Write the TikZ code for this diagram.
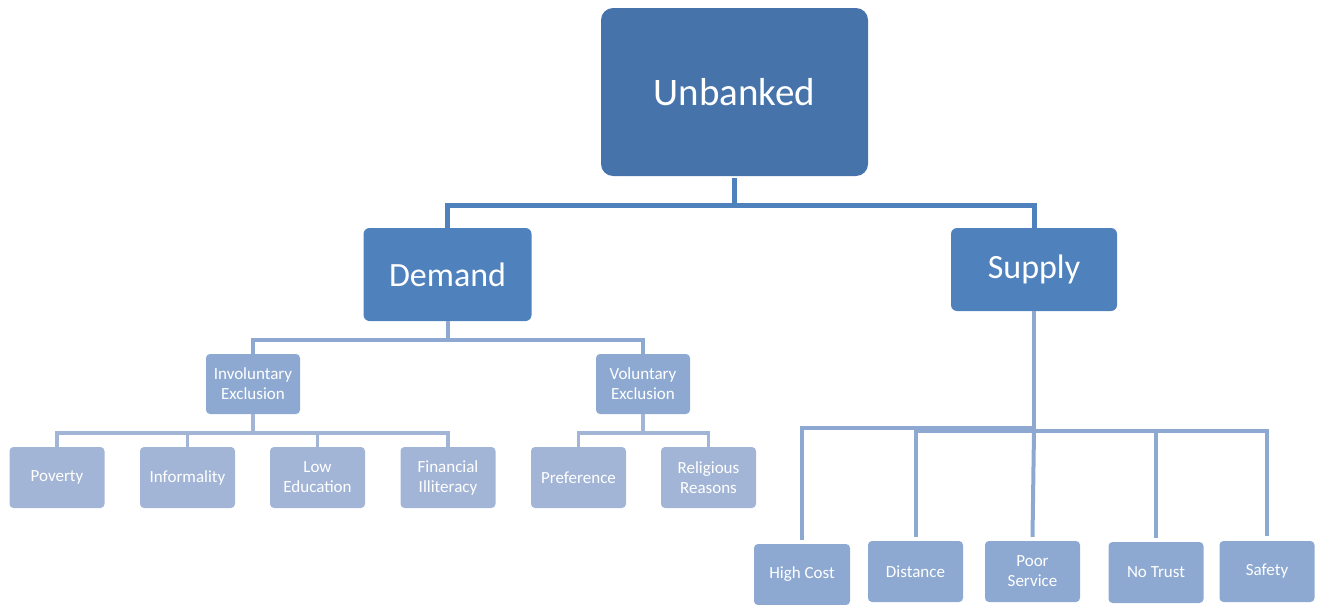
\documentclass[tikz,border=0pt]{standalone}
\usepackage{fontspec}
\setmainfont{Carlito}
\definecolor{cTop}{HTML}{4674AA}
\definecolor{cMid}{HTML}{4F81BD}
\definecolor{cLow}{HTML}{8EA9D1}
\definecolor{cLeaf}{HTML}{A3B5D6}
\begin{document}
\begin{tikzpicture}[x=1pt,y=-1pt,
  box/.style={inner sep=0pt,text=white,align=center,anchor=center},
  topbox/.style={box,fill=cTop,rounded corners=12pt,minimum width=267pt,minimum height=168pt,font=\fontsize{39}{47}\selectfont},
  midbox/.style={box,fill=cMid,rounded corners=6pt,minimum width=168pt,font=\fontsize{34}{40}\selectfont},
  lowbox/.style={box,fill=cLow,rounded corners=4pt,minimum width=94pt,minimum height=60pt,font=\fontsize{17}{20}\selectfont},
  leafbox/.style={box,fill=cLeaf,rounded corners=4pt,minimum width=95pt,minimum height=61pt,font=\fontsize{17}{20}\selectfont},
  supbox/.style={box,fill=cLow,rounded corners=4pt,minimum width=95pt,minimum height=61pt,font=\fontsize{17}{20}\selectfont},
  linkA/.style={draw=cMid,line width=5pt},
  linkB/.style={draw=cLow,line width=4pt},
  linkC/.style={draw=cLeaf,line width=3.5pt}]
\useasboundingbox (0,0) rectangle (1323,605);
% nodes
\node[topbox] (unb) at (734.5,92) {Unbanked};
\node[midbox,minimum height=93pt] (dem) at (447.5,274.5) {Demand};
\node[midbox,minimum width=166pt,minimum height=83pt] (sup) at (1034,269.5) {Supply};
\node[lowbox] (inv) at (253,384) {Involuntary\\Exclusion};
\node[lowbox] (vol) at (643,384) {Voluntary\\Exclusion};
\node[leafbox] (pov) at (57,477.5) {Poverty};
\node[leafbox] (inf) at (187.5,477.5) {Informality};
\node[leafbox] (edu) at (317.5,477.5) {Low\\Education};
\node[leafbox] (fin) at (448,477.5) {Financial\\Illiteracy};
\node[leafbox] (pre) at (578.5,477.5) {Preference};
\node[leafbox] (rel) at (708.5,477.5) {Religious\\Reasons};
\node[supbox,minimum width=96pt] (hc) at (802,574.5) {High Cost};
\node[supbox] (dis) at (915.5,571.5) {Distance};
\node[supbox] (ps) at (1032.5,571.5) {Poor\\Service};
\node[supbox] (nt) at (1156,572.5) {No Trust};
\node[supbox] (saf) at (1267,571.5) {Safety};
% level 1 connectors
\draw[linkA] ([yshift=-2pt]unb.south) -- ++(0,27) coordinate (j1);
\draw[linkA] (j1) -| (dem.north);
\draw[linkA] (j1) -| (sup.north);
% demand connectors
\draw[linkB] (dem.south) -- ++(0,19) coordinate (j2);
\draw[linkB] (j2) -| (inv.north);
\draw[linkB] (j2) -| (vol.north);
% involuntary connectors
\draw[linkC] (inv.south) -- ++(0,19) coordinate (j3);
\draw[linkC] (j3) -| (pov.north);
\draw[linkC] (j3) -| (inf.north);
\draw[linkC] (j3) -| (edu.north);
\draw[linkC] (j3) -| (fin.north);
% voluntary connectors
\draw[linkC] (vol.south) -- ++(0,19) coordinate (j4);
\draw[linkC] (j4) -| (pre.north);
\draw[linkC] (j4) -| (rel.north);
% supply connectors
\draw[linkB] (sup.south) -- ++(0,120) coordinate (j5);
\draw[linkB] ([yshift=4pt]hc.north) |- ([yshift=3pt]j5);
\draw[linkB] ([yshift=4pt]dis.north) |- (j5) -| ([yshift=5pt]saf.north);
\draw[linkB] (j5) -- ([yshift=4pt]ps.north);
\draw[linkB] ([yshift=4pt]nt.north) -- (nt.north |- j5);
\end{tikzpicture}
\end{document}
